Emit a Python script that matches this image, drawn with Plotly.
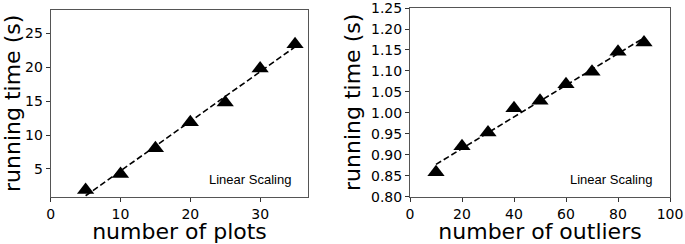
import plotly.graph_objects as go

# Left panel data
plots_x = [5, 10, 15, 20, 25, 30, 35]
plots_time = [1.9, 4.26, 8.06, 11.9, 14.8, 19.8, 23.4]
plots_fit_x = [5, 35]
plots_fit_y = [1.05, 23.0]

# Right panel data
outliers_x = [10, 20, 30, 40, 50, 60, 70, 80, 90]
outliers_time = [0.858, 0.92, 0.953, 1.011, 1.029, 1.068, 1.098, 1.146, 1.168]
outliers_fit_x = [10, 90]
outliers_fit_y = [0.877, 1.179]

left_xticks = [0, 10, 20, 30]
left_yticks = [5, 10, 15, 20, 25]
right_xticks = [0, 20, 40, 60, 80, 100]
right_yticks = [0.80, 0.85, 0.90, 0.95, 1.00, 1.05, 1.10, 1.15, 1.20, 1.25]

W, H = 685, 244
fig = go.Figure()

marker = dict(symbol="triangle-up", size=15, color="black")
line = dict(color="black", width=1.6, dash="6px,3px")

fig.add_trace(go.Scatter(x=plots_fit_x, y=plots_fit_y, mode="lines", line=line,
                         xaxis="x", yaxis="y", showlegend=False, cliponaxis=False))
fig.add_trace(go.Scatter(x=plots_x, y=plots_time, mode="markers", marker=marker,
                         xaxis="x", yaxis="y", showlegend=False, cliponaxis=False))
fig.add_trace(go.Scatter(x=outliers_fit_x, y=outliers_fit_y, mode="lines", line=line,
                         xaxis="x2", yaxis="y2", showlegend=False, cliponaxis=False))
fig.add_trace(go.Scatter(x=outliers_x, y=outliers_time, mode="markers", marker=marker,
                         xaxis="x2", yaxis="y2", showlegend=False, cliponaxis=False))

tickfont = dict(family="DejaVu Sans", size=14, color="black")
titlefont = dict(family="DejaVu Sans", size=22, color="black")
axcommon = dict(showgrid=False, zeroline=False, showline=True, linecolor="#555",
                linewidth=1, mirror=True, ticks="outside", ticklen=4, tickcolor="#333",
                tickfont=tickfont, automargin=False, ticklabeloverflow="allow")

fig.update_layout(
    width=W, height=H,
    margin=dict(l=0, r=0, t=0, b=0),
    paper_bgcolor="white", plot_bgcolor="white",
    xaxis=dict(domain=[50.7 / W, 308.3 / W], range=[0, 36.9], tickvals=left_xticks,
               anchor="y", title=dict(text="number of plots", font=titlefont, standoff=5),
               **axcommon),
    yaxis=dict(domain=[(H - 196.7) / H, (H - 10) / H], range=[0.91, 28.44],
               tickvals=left_yticks, anchor="x",
               title=dict(text="running time (s)", font=titlefont, standoff=4),
               **axcommon),
    xaxis2=dict(domain=[410 / W, 670 / W], range=[0, 100], tickvals=right_xticks,
                anchor="y2", title=dict(text="number of outliers", font=titlefont, standoff=5),
                **axcommon),
    yaxis2=dict(domain=[(H - 196.7) / H, (H - 8) / H], range=[0.7999, 1.2501],
                tickvals=right_yticks, tickformat=".2f", anchor="x2",
                title=dict(text="running time (s)", font=titlefont, standoff=4),
                **axcommon),
    annotations=[
        dict(text="Linear Scaling", xref="x domain", yref="y domain", x=0.94, y=0.09,
             xanchor="right", yanchor="middle", showarrow=False,
             font=dict(family="Liberation Sans", size=13, color="black")),
        dict(text="Linear Scaling", xref="x2 domain", yref="y2 domain", x=0.94, y=0.09,
             xanchor="right", yanchor="middle", showarrow=False,
             font=dict(family="Liberation Sans", size=13, color="black")),
    ],
)

fig.write_html("out.html", config={"displayModeBar": False},
               post_script="document.body.style.margin='0';document.body.style.overflow='hidden';")
